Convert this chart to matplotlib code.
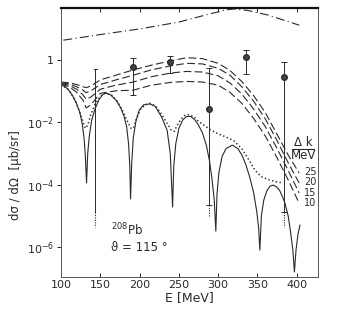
import numpy as np
import matplotlib
matplotlib.use('Agg')
import matplotlib.pyplot as plt

plt.rcParams['font.family'] = ['Liberation Sans Narrow', 'DejaVu Sans']
plt.rcParams['mathtext.fontset'] = 'custom'
plt.rcParams['mathtext.rm'] = 'Liberation Sans Narrow'
plt.rcParams['mathtext.it'] = 'Liberation Sans Narrow'

# values, y given as log10(dsigma/dOmega)
# solid curve (no smearing)
e_solid = [100, 105, 110, 115, 120, 124, 127, 129.5, 131, 132.5,
           134, 136, 139, 143, 148, 153, 157, 163, 170, 176, 180, 183.5, 186, 187.5, 188.5,
           190, 192, 195.5, 199.5, 205, 213, 220, 228, 235, 239, 242,
           243.5, 246, 250, 255, 260, 265, 270, 275, 280, 285, 289, 292, 295, 297,
           298.5, 301, 305, 310, 318, 325, 330, 335, 340, 345, 349, 351.5, 353,
           355, 358, 362, 366, 370, 374, 378, 382, 385, 389, 392, 395, 397,
           399, 401.5, 404]
lg_solid = [-0.82, -0.86, -0.98, -1.17, -1.42, -1.7, -2.05, -2.55, -3.1, -3.95,
            -3.0, -2.45, -1.95, -1.6, -1.3, -1.12, -1.07, -1.13, -1.3, -1.55, -1.8, -2.15, -2.7, -3.4, -4.46,
            -3.3, -2.5, -1.95, -1.62, -1.45, -1.42, -1.5, -1.84, -2.26, -3.0, -4.72,
            -3.4, -2.7, -2.2, -1.93, -1.82, -1.82, -1.92, -2.1, -2.35, -2.75, -3.25, -3.8, -4.5, -5.49,
            -4.3, -3.6, -3.1, -2.85, -2.74, -2.85, -3.05, -3.35, -3.75, -4.25, -4.85, -5.4, -6.1,
            -5.0, -4.5, -4.2, -4.05, -4.02, -4.07, -4.18, -4.4, -4.6, -5.0, -5.5, -6.1, -6.8,
            -6.1, -5.6, -5.3]

# dotted curve
e_dot = [100, 110, 118, 124, 128, 131, 134, 138, 143, 150, 157, 165, 172, 178, 184, 189, 192,
         196, 201, 207, 213, 220, 228, 234, 240, 244, 248, 253, 258, 263, 270, 275, 282,
         290, 300, 310, 320, 330, 340, 347, 355, 365, 375, 383]
lg_dot = [-0.8, -0.97, -1.3, -1.7, -2.0, -2.2, -2.1, -1.75, -1.45, -1.18, -1.07, -1.15, -1.35,
          -1.62, -1.95, -2.2, -2.2, -1.9, -1.6, -1.45, -1.4, -1.48, -1.75, -2.0, -2.25, -2.3,
          -2.1, -1.9, -1.78, -1.76, -1.85, -1.98, -2.1, -2.25, -2.38, -2.48, -2.6, -2.85,
          -3.25, -3.55, -3.75, -3.85, -3.92, -3.95]

# dashed curves, Delta k = 25, 20, 15, 10 MeV
e_dash = [100, 110, 120, 128, 132, 138, 150, 170, 192, 215, 240, 260, 280, 300, 315,
          330, 345, 360, 375, 390, 403]
lg_dash = {
    '25': [-0.72, -0.74, -0.8, -0.87, -0.9, -0.85, -0.65, -0.5, -0.33, -0.18, -0.04, 0.06,
           0.03, -0.12, -0.35, -0.7, -1.15, -1.7, -2.4, -3.1, -3.63],
    '20': [-0.75, -0.78, -0.87, -0.98, -1.06, -1.0, -0.8, -0.65, -0.5, -0.33, -0.2, -0.12,
           -0.14, -0.28, -0.5, -0.87, -1.33, -1.9, -2.6, -3.35, -3.95],
    '15': [-0.77, -0.82, -0.95, -1.13, -1.27, -1.2, -0.95, -0.82, -0.72, -0.55, -0.43,
           -0.38, -0.4, -0.52, -0.75, -1.1, -1.58, -2.15, -2.85, -3.6, -4.27],
    '10': [-0.8, -0.86, -1.05, -1.3, -1.55, -1.45, -1.08, -1.0, -0.98, -0.82, -0.73, -0.7,
           -0.72, -0.82, -1.05, -1.4, -1.88, -2.45, -3.15, -3.9, -4.6],
}

# dash-dot curve at the top
e_dd = [103, 150, 200, 250, 280, 308, 320, 338, 364, 403]
lg_dd = [0.62, 0.8, 0.98, 1.2, 1.4, 1.58, 1.62, 1.57, 1.42, 1.1]

# measured points
e_pt = [191.5, 238.5, 287.8, 335.5, 383.3]
lg_pt = [-0.24, -0.08, -1.58, 0.08, -0.56]
lg_hi = [0.05, 0.11, -0.27, 0.30, -0.08]
lg_lo = [-1.12, -0.43, -4.66, -0.46, -4.88]
# bar without visible point
e_bar0 = 143.6
lg_bar0 = [-0.30, -4.88]
# dotted continuation of open lower errors
e_open = [143.6, 287.8, 383.3]
lg_open_top = [-4.88, -4.66, -4.88]
lg_open_bot = [-5.36, -5.04, -5.36]

ink = '#2a2a2a'

fig = plt.figure(figsize=(3.38, 3.22), dpi=100)
ax = fig.add_axes([61 / 338, 45 / 322, 257 / 338, 269 / 322])

ax.plot(e_solid, 10 ** np.array(lg_solid), color=ink, lw=0.8)
ax.plot(e_dot, 10 ** np.array(lg_dot), color=ink, lw=1.1, linestyle=(0, (0.9, 1.6)))
for k, v in lg_dash.items():
    ax.plot(e_dash, 10 ** np.array(v), color=ink, lw=0.8, linestyle=(0, (7, 3)))
ax.plot(e_dd, 10 ** np.array(lg_dd), color=ink, lw=0.8, linestyle=(0, (8, 3, 1, 3)))

y = 10 ** np.array(lg_pt)
yerr = [y - 10 ** np.array(lg_lo), 10 ** np.array(lg_hi) - y]
ax.errorbar(e_pt, y, yerr=yerr, fmt='o', ms=4, color=ink, mfc='#444444', mec=ink,
            elinewidth=0.7, capsize=2, capthick=0.7)
ax.plot([e_bar0, e_bar0], 10 ** np.array(lg_bar0), color=ink, lw=0.7)
ax.plot([e_bar0 - 1.8, e_bar0 + 1.8], [10 ** lg_bar0[0]] * 2, color=ink, lw=0.7)
for e, a, b in zip(e_open, lg_open_top, lg_open_bot):
    ax.plot([e, e], [10 ** a, 10 ** b], color=ink, lw=0.8, linestyle=(0, (1, 1.2)))

ax.set_yscale('log')
ax.set_xlim(100, 427)
ax.set_ylim(10 ** -6.96, 10 ** 1.65)

ax.set_xticks([100, 150, 200, 250, 300, 350, 400])
ax.set_yticks([1, 1e-2, 1e-4, 1e-6])
ax.set_yticklabels(['1', r'$\mathregular{10^{-2}}$', r'$\mathregular{10^{-4}}$',
                    r'$\mathregular{10^{-6}}$'])
ax.yaxis.set_minor_locator(matplotlib.ticker.NullLocator())
ax.tick_params(axis='both', labelsize=8, colors=ink, width=0.7, length=3, pad=2)
ax.tick_params(axis='x', top=True, direction='in')

for s in ['left', 'right', 'bottom']:
    ax.spines[s].set_linewidth(0.7)
    ax.spines[s].set_color('#555555')
ax.spines['top'].set_linewidth(1.6)
ax.spines['top'].set_color('#111111')

ax.set_xlabel('E [MeV]', fontsize=9, color=ink, labelpad=1)
ax.set_ylabel('dσ / dΩ  [μb/sr]', fontsize=8.5, color=ink)
ax.yaxis.set_label_coords(-0.15, 0.38)

ax.text(163, 10 ** -5.45, r'$^{208}$Pb', fontsize=8.5, color=ink, va='center')
ax.text(163, 10 ** -6.0, 'ϑ = 115 °', fontsize=8.5, color=ink, va='center')

ax.text(408, 10 ** -2.67, 'Δ k', fontsize=8.5, color=ink, ha='center', va='center')
ax.plot([394, 422], [10 ** -2.87, 10 ** -2.87], color=ink, lw=0.8)
ax.text(408, 10 ** -3.07, 'MeV', fontsize=8.5, color=ink, ha='center', va='center')
for i, k in enumerate(lg_dash):
    ax.text(409, 10 ** (-3.6 - 0.33 * i), k, fontsize=7, color=ink, va='center')

fig.savefig('out.png', dpi=100, facecolor='white')
